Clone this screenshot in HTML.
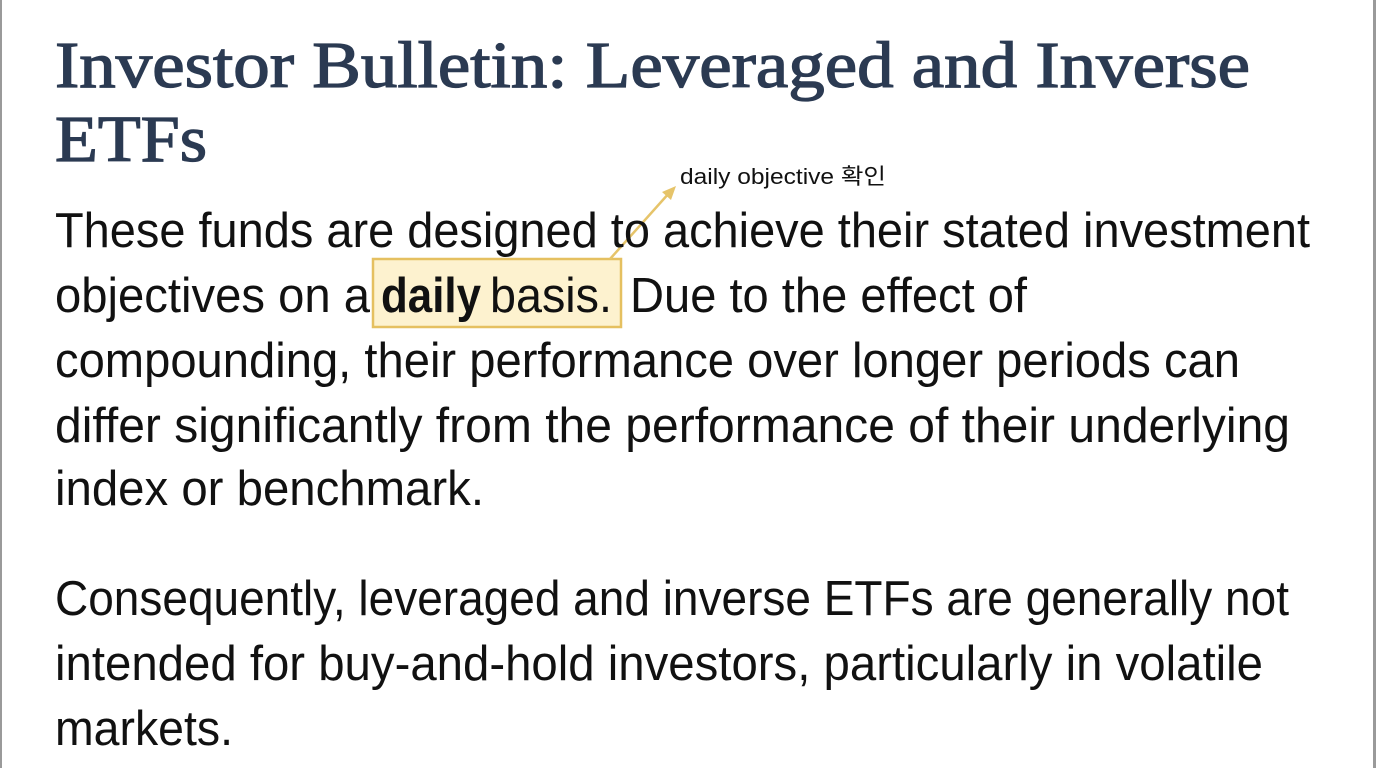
<!DOCTYPE html>
<html><head><meta charset="utf-8"><style>
html,body{margin:0;padding:0;background:#fff;}
svg{display:block;}
.t{font-family:"Liberation Serif",serif;font-weight:normal;fill:#2b3a52;stroke:#2b3a52;stroke-width:1.3px;font-size:66px;}
.b{font-family:"Liberation Sans",sans-serif;fill:#111;font-size:49px;}
</style></head><body>
<svg width="1376" height="768" xmlns="http://www.w3.org/2000/svg">
<rect x="0" y="0" width="1376" height="768" fill="#fff"/>
<rect x="0" y="0" width="2" height="768" fill="#9a9a9a"/>
<rect x="1373" y="0" width="3" height="768" fill="#9a9a9a"/>
<text class="t" x="55" y="87" textLength="1195" lengthAdjust="spacingAndGlyphs">Investor Bulletin: Leveraged and Inverse</text>
<text class="t" x="55" y="161" textLength="152" lengthAdjust="spacingAndGlyphs">ETFs</text>
<rect x="373" y="259" width="248" height="68" fill="#fdf2cf" stroke="#e5c060" stroke-width="2.5"/>
<line x1="610" y1="259" x2="670" y2="192" stroke="#e6c46a" stroke-width="2.5"/>
<polygon points="676,186 662,192 671,200" fill="#e6c46a"/>
<text x="680" y="184" font-family="Liberation Sans, 'Noto Sans CJK KR', sans-serif" font-size="22" fill="#111" textLength="206" lengthAdjust="spacingAndGlyphs">daily objective 확인</text>
<text class="b" x="55" y="247" textLength="1255" lengthAdjust="spacingAndGlyphs">These funds are designed to achieve their stated investment</text>
<text class="b" x="55" y="312" textLength="315" lengthAdjust="spacingAndGlyphs">objectives on a</text>
<text class="b" x="381" y="312" font-weight="bold" textLength="100" lengthAdjust="spacingAndGlyphs">daily</text>
<text class="b" x="490" y="312" textLength="122" lengthAdjust="spacingAndGlyphs">basis.</text>
<text class="b" x="630" y="312" textLength="397" lengthAdjust="spacingAndGlyphs">Due to the effect of</text>
<text class="b" x="55" y="377" textLength="1185" lengthAdjust="spacingAndGlyphs">compounding, their performance over longer periods can</text>
<text class="b" x="55" y="442" textLength="1235" lengthAdjust="spacingAndGlyphs">differ significantly from the performance of their underlying</text>
<text class="b" x="55" y="505" textLength="429" lengthAdjust="spacingAndGlyphs">index or benchmark.</text>
<text class="b" x="55" y="615" textLength="1234" lengthAdjust="spacingAndGlyphs">Consequently, leveraged and inverse ETFs are generally not</text>
<text class="b" x="55" y="680" textLength="1208" lengthAdjust="spacingAndGlyphs">intended for buy-and-hold investors, particularly in volatile</text>
<text class="b" x="55" y="745" textLength="178" lengthAdjust="spacingAndGlyphs">markets.</text>
</svg>
</body></html>
